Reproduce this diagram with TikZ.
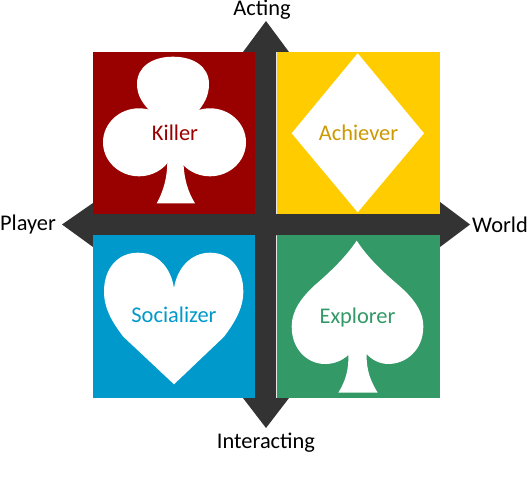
\documentclass[tikz,border=0pt]{standalone}
\usepackage{fontspec}
\setmainfont{Carlito}
\definecolor{axis}{HTML}{333333}
\definecolor{killer}{HTML}{990000}
\definecolor{achiever}{HTML}{FFCC00}
\definecolor{achtext}{HTML}{CC9900}
\definecolor{social}{HTML}{0099CC}
\definecolor{explorer}{HTML}{339966}
\tikzset{
  axislabel/.style={font=\fontsize{22.5}{24}\selectfont,text=black,inner sep=0pt},
  suitlabel/.style={font=\fontsize{22.5}{24}\selectfont,inner sep=0pt},
  suit/.style={fill=white,draw=none},
}
\begin{document}
\begin{tikzpicture}[x=1bp,y=-1bp]
\useasboundingbox (0,0) rectangle (528,486);
% axes
\fill[axis] (266,21) -- (289,52) -- (276,52) -- (276,214) -- (440,214) -- (440,202) -- (470,224.5)
  -- (440,247) -- (440,235) -- (276,235) -- (276,398) -- (289,398) -- (266,428) -- (243,398)
  -- (255,398) -- (255,235) -- (93,235) -- (93,247) -- (62,224.5) -- (93,203) -- (93,214)
  -- (255,214) -- (255,52) -- (243,52) -- cycle;
% squares
\fill[killer] (93,52) rectangle (255,214);
\fill[achiever] (276.5,52) rectangle (440,214);
\fill[social] (93,235) rectangle (255,398);
\fill[explorer] (276.5,235) rectangle (440,398);
% club
\fill[suit] (151.7,113) .. controls (143,104) and (137,96) .. (137,84)
  .. controls (137,67) and (152,56.7) .. (173,56.7)
  .. controls (194,56.7) and (209,67) .. (209,84)
  .. controls (209,96) and (204,104) .. (196.7,113) -- cycle;
\fill[suit] (139,142.3) ellipse [x radius=36,y radius=34];
\fill[suit] (210,142.3) ellipse [x radius=36,y radius=34];
\fill[suit] (151.7,113) -- (196.7,113) -- (200,125) -- (190,162) -- (155,162) -- (148,125) -- cycle;
\fill[suit] (167.3,160) .. controls (167.5,178) and (163,192) .. (156.7,203.3) -- (195,203.3)
  .. controls (188,192) and (183.5,178) .. (183.5,160) -- cycle;
% diamond
\fill[suit] (357.7,53.3) -- (424,133.3) -- (357.7,212.3) -- (291.7,133.3) -- cycle;
% heart
\fill[suit] (174,384.3) -- (123.3,336.7) .. controls (112,322) and (104,308) .. (104,291.7)
  .. controls (104,268) and (118,252.7) .. (138,252.7)
  .. controls (158,252.7) and (171,268) .. (174,288.3)
  .. controls (177,268) and (191,252.7) .. (210,252.7)
  .. controls (230,252.7) and (243.3,268) .. (243.3,291.7)
  .. controls (243.3,308) and (235,322) .. (224,336.7) -- cycle;
% spade
\fill[suit] (356.7,240.7) .. controls (345,258) and (330,272) .. (315,285)
  .. controls (302,297) and (291.7,310) .. (291.7,326.7)
  .. controls (291.7,350) and (308,364) .. (325,364)
  .. controls (335,364) and (343,360) .. (348.3,355)
  .. controls (349,370) and (345,382) .. (338.3,392.7) -- (377.7,392.7)
  .. controls (371,382) and (366,370) .. (366.7,354)
  .. controls (372,360) and (380,364) .. (388.3,364)
  .. controls (406,364) and (423.3,350) .. (423.3,326.7)
  .. controls (423.3,310) and (412,297) .. (398.3,285)
  .. controls (383,272) and (368,258) .. (356.7,240.7) -- cycle;
% suit labels
\node[suitlabel,text=killer] (killerlabel) at (175,132.5) {Killer};
\node[suitlabel,text=achtext] (achieverlabel) at (358.5,132.5) {Achiever};
\node[suitlabel,text=social] (socializerlabel) at (174,314.5) {Socializer};
\node[suitlabel,text=explorer] (explorerlabel) at (357.5,318) {Explorer};
% axis labels
\node[axislabel] (acting) at (262,10) {Acting};
\node[axislabel] (player) at (28,225) {Player};
\node[axislabel] (world) at (500,224.5) {World};
\node[axislabel] (interacting) at (266,442.5) {Interacting};
\end{tikzpicture}
\end{document}
